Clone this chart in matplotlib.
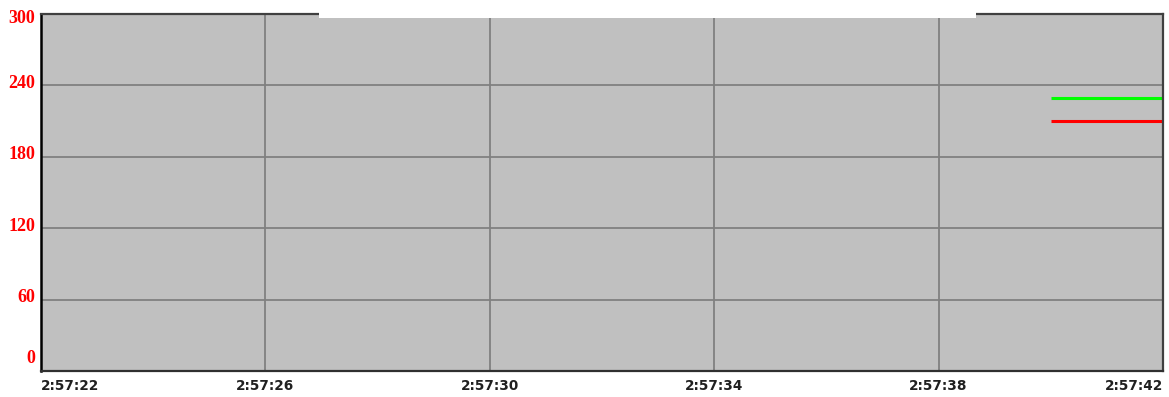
import matplotlib
matplotlib.use("Agg")
import matplotlib.pyplot as plt
from matplotlib.patches import Rectangle
import matplotlib.transforms as mtransforms

# time axis in seconds after 2:57:00
time_ticks = [22, 26, 30, 34, 38, 42]
time_labels = ["2:57:22", "2:57:26", "2:57:30", "2:57:34", "2:57:38", "2:57:42"]
value_ticks = [0, 60, 120, 180, 240, 300]

# series samples
series_t = [40, 42]
green_vals = [229, 229]
red_vals = [210, 210]

W, H = 1169, 397
fig = plt.figure(figsize=(W / 100, H / 100), dpi=100)
fig.patch.set_facecolor("white")

left, right, top, bottom = 41, 1163, 14, 371
ax = fig.add_axes([left / W, (H - bottom) / H, (right - left) / W, (bottom - top) / H])
ax.set_facecolor("#c0c0c0")
ax.set_xlim(22, 42)
ax.set_ylim(0, 300)

ax.set_xticks(time_ticks)
ax.set_xticklabels(time_labels)
ax.set_yticks(value_ticks)
ax.set_yticklabels([str(v) for v in value_ticks])
ax.tick_params(length=0)
ax.tick_params(axis="x", pad=6)
ax.tick_params(axis="y", pad=4)

for lab in ax.get_xticklabels():
    lab.set_fontfamily("DejaVu Sans")
    lab.set_fontweight("bold")
    lab.set_fontsize(9.8)
    lab.set_color("#202020")
xl = ax.get_xticklabels()
xl[0].set_ha("left")
xl[-1].set_ha("right")

shift_up = mtransforms.ScaledTranslation(0, 4 / 100, fig.dpi_scale_trans)
for lab in ax.get_yticklabels():
    lab.set_fontfamily("Liberation Serif")
    lab.set_fontweight("bold")
    lab.set_fontsize(13)
    lab.set_color("#ff0000")
    lab.set_transform(lab.get_transform() + shift_up)
yl = ax.get_yticklabels()
yl[0].set_va("bottom")
yl[-1].set_va("top")

ax.grid(True, color="#808080", linewidth=1.3)
ax.set_axisbelow(True)

for side in ["top", "right"]:
    ax.spines[side].set_color("#404040")
    ax.spines[side].set_linewidth(1.6)
ax.spines["left"].set_color("#000000")
ax.spines["left"].set_linewidth(1.8)
ax.spines["bottom"].set_color("#303030")
ax.spines["bottom"].set_linewidth(1.6)

ax.plot(series_t, green_vals, color="#00ff00", linewidth=2.2, solid_capstyle="butt", clip_on=False)
ax.plot(series_t, red_vals, color="#ff0000", linewidth=2.2, solid_capstyle="butt", clip_on=False)

# blank header panel covering the top edge
fig.add_artist(Rectangle((319 / W, (H - 17.5) / H), (976 - 319) / W, 17.5 / H,
                         transform=fig.transFigure, facecolor="white",
                         edgecolor="none", zorder=10))

fig.savefig("out.png", dpi=100)
